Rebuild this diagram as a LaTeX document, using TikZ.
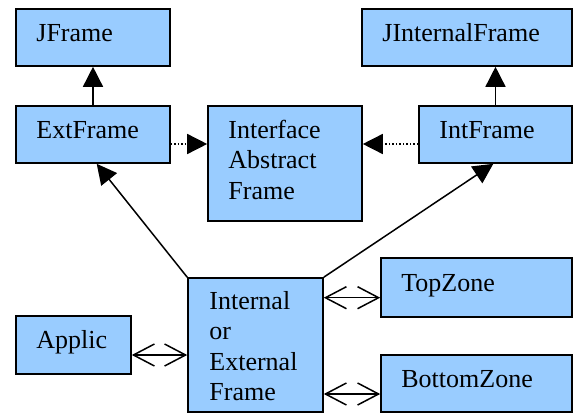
\documentclass[tikz,border=0pt]{standalone}
\usepackage{fontspec}
\setmainfont{Liberation Serif}
\usetikzlibrary{arrows.meta}
\definecolor{boxblue}{HTML}{99CCFF}
\tikzset{
  cls/.style={draw=black, fill=boxblue, line width=1.6pt, inner sep=0pt},
  lbl/.style={anchor=base west, inner sep=0pt, align=left,
              font=\fontsize{26}{30.5}\selectfont},
  inherit/.style={line width=1.5pt, -{Triangle[length=20pt,width=20pt]}},
  realize/.style={line width=1.5pt, dotted, -{Triangle[length=20pt,width=20pt]}},
  assoc/.style={line width=1.5pt,
    {Straight Barb[length=21pt,width=22pt]}-{Straight Barb[length=21pt,width=22pt]}},
}
\begin{document}
\begin{tikzpicture}[x=1pt,y=1pt]
\useasboundingbox (0,0) rectangle (573,413);

% class boxes
\node[cls, minimum width=154pt, minimum height=57pt]  (jframe) at (93,375.5) {};
\node[cls, minimum width=154pt, minimum height=57pt]  (ext)    at (93,278.5) {};
\node[cls, minimum width=154pt, minimum height=115pt] (iaf)    at (285,249.5) {};
\node[cls, minimum width=210pt, minimum height=57pt]  (jif)    at (467,375.5) {};
\node[cls, minimum width=153pt, minimum height=57pt]  (intf)   at (495.5,278.5) {};
\node[cls, minimum width=115pt, minimum height=58pt]  (applic) at (73.5,68) {};
\node[cls, minimum width=135pt, minimum height=134pt] (iof)    at (255.5,68) {};
\node[cls, minimum width=191pt, minimum height=59pt]  (top)    at (476.5,125.5) {};
\node[cls, minimum width=191pt, minimum height=57pt]  (bottom) at (476.5,29.5) {};

% class names (the base anchor of a multi-line label is its last line)
\node[lbl] (jframe-t) at ([xshift=21pt,yshift=-33pt]jframe.north west) {JFrame};
\node[lbl] (ext-t)    at ([xshift=21pt,yshift=-33pt]ext.north west) {ExtFrame};
\node[lbl] (iaf-t)    at ([xshift=21pt,yshift=-94pt]iaf.north west) {Interface\\Abstract\\Frame};
\node[lbl] (jif-t)    at ([xshift=21pt,yshift=-33pt]jif.north west) {JInternalFrame};
\node[lbl] (intf-t)   at ([xshift=21pt,yshift=-33pt]intf.north west) {IntFrame};
\node[lbl] (applic-t) at ([xshift=21pt,yshift=-33pt]applic.north west) {Applic};
\node[lbl] (iof-t)    at ([xshift=22pt,yshift=-123.5pt]iof.north west) {Internal\\or\\External\\Frame};
\node[lbl] (top-t)    at ([xshift=21pt,yshift=-34pt]top.north west) {TopZone};
\node[lbl] (bottom-t) at ([xshift=21pt,yshift=-33pt]bottom.north west) {BottomZone};

% inheritance
\draw[inherit] (ext.north) -- (jframe.south);
\draw[inherit] (intf.north) -- (intf.north |- jif.south);
\draw[inherit] (iof.north west) -- ([xshift=3.7pt]ext.south);
\draw[inherit] (iof.north east) -- ([xshift=-2.2pt]intf.south);

% interface realization
\draw[realize] ([yshift=-9.5pt]ext.east) -- ([yshift=-9.5pt]ext.east -| iaf.west);
\draw[realize] ([yshift=-9.5pt]intf.west) -- ([yshift=-9.5pt]intf.west -| iaf.east);

% associations
\draw[assoc] ([yshift=-10pt]applic.east) -- ([yshift=-10pt]applic.east -| iof.west);
\draw[assoc] ([yshift=-10.2pt]top.west -| iof.east) -- ([yshift=-10.2pt]top.west);
\draw[assoc] ([yshift=-10.5pt]bottom.west -| iof.east) -- ([yshift=-10.5pt]bottom.west);
\end{tikzpicture}
\end{document}
